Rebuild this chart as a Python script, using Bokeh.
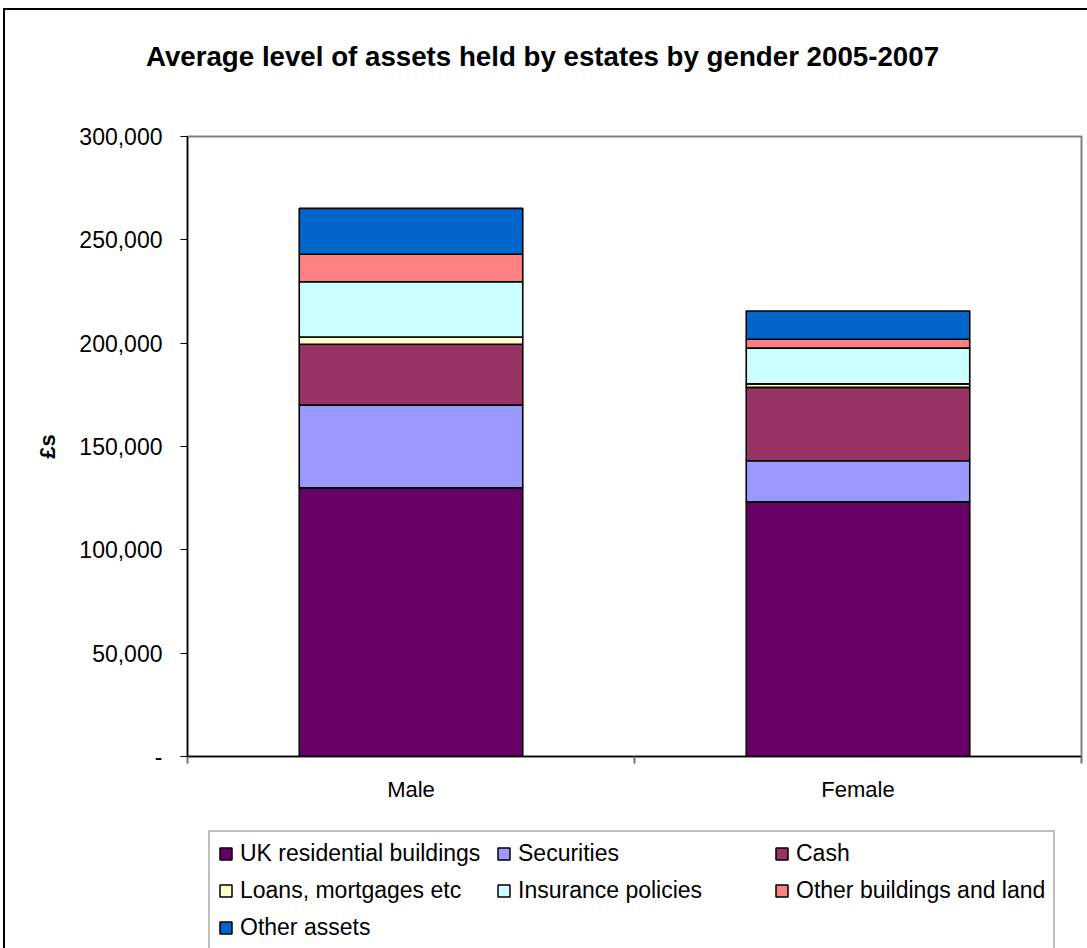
from bokeh.plotting import figure
from bokeh.models import (Range1d, FixedTicker, NumeralTickFormatter, Legend, LegendItem,
                          ColumnDataSource, Div)
from bokeh.layouts import column
from bokeh.embed import file_html
from bokeh.resources import INLINE
import numpy as np

# ---- data ----
genders = ["Male", "Female"]
series = ["UK residential buildings", "Securities", "Cash", "Loans, mortgages etc",
          "Insurance policies", "Other buildings and land", "Other assets"]
uk_residential = [130000, 123200]
securities = [40000, 19900]
cash = [29500, 35500]
loans = [3500, 1700]
insurance = [26700, 17300]
other_buildings = [13300, 4300]
other_assets = [22200, 13700]
colors = ["#660066", "#9999FF", "#993366", "#FFFFCC", "#CCFFFF", "#FF8080", "#0066CC"]
y_ticks = [0, 50000, 100000, 150000, 200000, 250000, 300000]
title_text = "Average level of assets held by estates by gender 2005-2007"
y_label = "£s"

keys = ["uk", "sec", "cash", "loans", "ins", "obl", "oa"]
values = [uk_residential, securities, cash, loans, insurance, other_buildings, other_assets]
x_pos = list(np.arange(len(genders)) + 0.5)
data = {"x": x_pos}
for k, v in zip(keys, values):
    data[k] = v
source = ColumnDataSource(data)

FONT = "Liberation Sans"
W = 1082

# ---- title ----
title_div = Div(text=title_text, width=W, height=100, margin=0,
                styles={"font-family": FONT, "font-size": "27.7px", "font-weight": "bold",
                        "color": "black", "text-align": "center", "line-height": "94px",
                        "white-space": "nowrap", "text-indent": "-7px"})

# ---- main chart ----
p = figure(width=W, height=706, output_backend="svg", toolbar_location=None,
           x_range=Range1d(0, len(genders)), y_range=Range1d(0, 300000),
           min_border_left=182, min_border_right=6, min_border_top=26, min_border_bottom=60)
p.outline_line_color = "#808080"
p.outline_line_width = 2
p.grid.visible = False

renderers = p.vbar_stack(keys, x="x", width=0.5, source=source, color=colors,
                         line_color="black", line_width=1.6)

# y axis
p.yaxis.ticker = FixedTicker(ticks=y_ticks)
p.yaxis.formatter = NumeralTickFormatter(format="0,0")
p.yaxis.major_label_overrides = {0: "-"}
p.yaxis.axis_label = y_label
p.yaxis.axis_label_text_font = FONT
p.yaxis.axis_label_text_font_style = "bold"
p.yaxis.axis_label_text_font_size = "22px"
p.yaxis.axis_label_text_color = "black"
p.yaxis.axis_label_standoff = 16
p.yaxis.major_label_text_font = FONT
p.yaxis.major_label_text_font_size = "23px"
p.yaxis.major_label_text_color = "black"
p.yaxis.major_label_standoff = 18
p.yaxis.major_tick_out = 7
p.yaxis.major_tick_in = 0
p.yaxis.minor_tick_out = 0
p.yaxis.axis_line_color = "black"
p.yaxis.axis_line_width = 1.5
p.yaxis.major_tick_line_color = "black"

# x axis: labels at centres, separator ticks at category boundaries
p.xaxis.ticker = FixedTicker(ticks=x_pos, minor_ticks=list(range(len(genders) + 1)))
p.xaxis.major_label_overrides = {x: g for x, g in zip(x_pos, genders)}
p.xaxis.major_tick_out = 0
p.xaxis.major_tick_in = 0
p.xaxis.minor_tick_out = 7
p.xaxis.minor_tick_in = 0
p.xaxis.minor_tick_line_color = "#707070"
p.xaxis.minor_tick_line_width = 2
p.xaxis.major_label_text_font = FONT
p.xaxis.major_label_text_font_size = "22px"
p.xaxis.major_label_text_color = "black"
p.xaxis.major_label_standoff = 13
p.xaxis.axis_line_color = "black"
p.xaxis.axis_line_width = 1.5

# ---- legend panel (same series; its bars are hidden so only the legend shows) ----
lf = figure(width=W, height=132, output_backend="svg", toolbar_location=None,
            x_range=Range1d(0, len(genders)), y_range=Range1d(0, 300000),
            x_axis_location=None, y_axis_location=None, min_border=0)
lf.outline_line_color = None
lf.grid.visible = False
l_renderers = lf.vbar_stack(keys, x="x", width=0.5, source=source, color=colors,
                            line_color="black", line_width=1.5)
for r in l_renderers:
    r.visible = False
items = [LegendItem(label=s, renderers=[r]) for s, r in zip(series, l_renderers)]
legend = Legend(items=items, ncols=3, orientation="horizontal", location=(21, -3))
legend.label_text_font = FONT
legend.label_text_font_size = "23px"
legend.label_text_color = "black"
legend.glyph_width = 15
legend.glyph_height = 15
legend.label_standoff = 7
legend.label_width = 246
legend.label_height = 20
legend.spacing = 10
legend.padding = 8
legend.margin = 0
legend.border_line_color = "#808080"
legend.border_line_width = 2
legend.background_fill_alpha = 1
lf.add_layout(legend, "center")

layout = column(title_div, p, lf, spacing=0)
layout.margin = (8, 0, 0, 3)
layout.styles = {"border-top": "2px solid black", "border-left": "2px solid black"}

open("out.html", "w").write(file_html(layout, INLINE))
